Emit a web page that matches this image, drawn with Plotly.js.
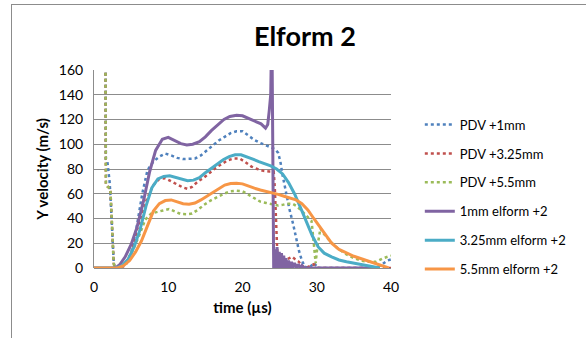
<!DOCTYPE html>
<html>
<head>
<meta charset="utf-8">
<script src="https://cdn.plot.ly/plotly-3.0.1.min.js"></script>
<style>
html,body{margin:0;padding:0;background:#fff;}
#wrap{position:relative;width:586px;height:338px;overflow:hidden;}
#chart{position:absolute;left:0;top:0;width:586px;height:338px;}
#frame{position:absolute;left:11px;top:4px;width:600px;height:400px;border-left:1px solid #8c8c8c;border-top:1px solid #8c8c8c;pointer-events:none;}
</style>
</head>
<body>
<div id="wrap"><div id="chart"></div><div id="frame"></div></div>
<script>
// ---- data ----
const seriesNames = ["PDV +1mm", "PDV +3.25mm", "PDV +5.5mm", "1mm elform +2", "3.25mm elform +2", "5.5mm elform +2"];

const pdv1T = [1.5,1.6,1.8,2.0,2.1,2.2,2.35,2.5,2.65,2.8,3.5,4.2,5.0,5.8,6.5,7.2,8.0,8.8,9.6,10.4,11.2,12.0,12.8,13.6,14.4,15.2,16.0,16.8,17.6,18.4,19.2,20.0,20.8,21.6,22.4,23.2,24.0,24.4,24.8,25.1,25.4,25.8,26.3,26.8,27.2,27.6,28.0,28.4,29.0,29.6,30.2,31,32,33,34,35,36,37,38,38.8,39.5,40];
const pdv1V = [250,88,86,78,70,60,40,20,5,0,0,3,12,35,60,79,86,90,92.5,91,89,88,88,88.5,91,95,99,103,106,109,110.5,110.5,107,103.5,101,99,97,96,93,86,75,62,48,36,24,14,6,1,0,4,0,0,0,0,0,0,0,1,0,3,6,7];

const pdv325T = [1.5,1.6,1.8,2.0,2.2,2.35,2.5,2.65,2.8,3.5,4.2,5.0,5.8,6.5,7.2,8.0,8.8,9.6,10.4,11.2,12.0,12.6,13.2,14.0,14.8,15.6,16.4,17.2,18.0,18.8,19.6,20.4,21.2,22.0,22.8,23.6,24.2,24.35,24.5,24.6,24.7,24.9,25.3,25.8,26.3,26.7,27.1,27.6,28.0,28.5,29.6,30.2,32,34,36,38,40];
const pdv325V = [250,68,66,65,64,45,20,4,0,0,2,10,31,44,57,67,72,72.5,70,67,65,64,65.5,70,73,77,81,84,87,88.5,88.5,85.5,82,80,78.5,78,78,65,45,25,10,4,5,6.5,8,9,7,5,2,0,3,0,0,0,0,0,0];

const pdv55T = [1.5,1.6,1.8,2.0,2.2,2.35,2.5,2.65,2.8,3.5,4.2,4.7,5.5,6.2,6.9,7.7,8.5,9.3,10.1,10.9,11.7,12.5,13.2,14.0,14.8,15.7,16.6,17.5,18.4,19.2,20.0,20.8,21.6,22.4,23.2,24.0,24.8,25.4,26.0,26.7,27.3,28.0,28.7,29.3,29.6,29.85,30.1,30.5,30.9,31.9,32.8,34,35,36,37,38,39,40];
const pdv55V = [250,68,66,65,64,45,20,4,0,0,3,9,18,28,39,44,45.5,46.5,47.7,45.5,43.6,43.5,44,47,51,54.5,57.6,60,62,62.5,62,59,56,53.6,52.5,51.5,50.5,51,52,52,50,46,42,38,20,4,18,32,28,21,16,11,8,6,5,5,8,10];

const el1T = [0,2.9,3.5,4.2,5.0,5.8,6.7,7.5,8.3,9.2,10.0,10.8,11.7,12.5,13.3,14.2,15.0,15.8,16.7,17.5,18.3,19.2,20.0,20.8,21.7,22.5,23.1,23.4,23.6,23.8,23.95,24.1,24.2,24.35,24.5,24.65,24.8,24.95,25.1,25.25,25.4,25.55,25.7,25.85,26.0,26.2,26.4,26.6,26.8,27.0,27.3,27.5,27.8,28.0,28.3,28.5,38];
const el1V = [0,0,3,9,19,33,55,78,95,104,105.5,103,100.5,99.5,100,102,106,111,116,120,122.5,123.5,123,121,118.5,116.5,113,116,127,140,200,0,0,15,0,17,0,13,0,12,0,10,0,8,0,6,0,5,0,4,0,3,0,2,0,0,0];

const el325T = [0,3.0,3.8,4.6,5.4,6.2,7.0,7.8,8.6,9.4,10.2,11.0,11.8,12.6,13.4,14.2,15.0,15.8,16.6,17.4,18.2,19.0,19.8,20.6,21.4,22.2,23.0,23.8,24.6,25.4,26.2,27.0,27.8,28.6,29.4,30.2,31.0,32.0,33.0,34.0,35.0,36.0,37.0,38.0,38.5];
const el325V = [0,0,2,7,17,31,50,65,72,74,74.5,73,71.5,70.5,71,73,77,80.5,84,87.5,90,91.5,91.5,90,88,86,84.5,82.5,80,76,69,60,49,37,26,17,12,9,6.5,5,4,3,2,1,0];

const el55T = [0,3.2,4.0,4.8,5.6,6.4,7.2,8.0,8.8,9.6,10.4,11.2,12.0,12.8,13.6,14.4,15.2,16.0,16.8,17.6,18.4,19.2,20.0,20.8,21.6,22.4,23.2,24.0,24.8,25.6,26.4,27.2,28.0,28.8,29.6,30.4,31.2,32.0,33.0,34.0,35.0,36.0,37.0,38.0,39.0,39.7];
const el55V = [0,0,2,6,13,22,34,46,52,54.5,55,53.5,52,51.5,52.5,55,58,61.5,64.5,67,68.3,68.5,68,66,64.5,63,62,60.5,59.5,58,56.5,55,52,47,40,33,26,20,15,12,9.5,7.5,5.5,4,2,0];

const xTicks = [0,10,20,30,40];
const yTicks = [0,20,40,60,80,100,120,140,160];

// ---- chart ----
const colors = ["#4F81BD","#C0504D","#9BBB59","#8064A2","#4BACC6","#F79646"];
const xs = [pdv1T,pdv325T,pdv55T,el1T,el325T,el55T];
const ys = [pdv1V,pdv325V,pdv55V,el1V,el325V,el55V];

const traces = seriesNames.map((n,i)=>({
  x: xs[i], y: ys[i], name: n, type:'scatter', mode:'lines',
  legendgroup: 'g'+i,
  line: i<3 ? {color:colors[i], width:2.5, dash:'dot'} : {color:colors[i], width:3},
  cliponaxis: true
}));

const layout = {
  width:586, height:338,
  margin:{l:94, r:195, t:70, b:70},
  paper_bgcolor:'#fff', plot_bgcolor:'#fff',
  font:{family:'Lato, "Liberation Sans", sans-serif', size:14, color:'#000'},
  title:{text:'<b>Elform 2</b>', font:{size:27, color:'#000'}, xref:'paper', x:0.71, xanchor:'center', y:0.893, yanchor:'middle'},
  xaxis:{range:[0,40], tickvals:xTicks, ticktext:xTicks.map(String), showgrid:false, zeroline:false,
         showline:false, ticks:'', ticklen:0, tickfont:{size:14}, ticklabelstandoff:9,
         title:{text:'<b>time (µs)</b>', font:{size:15}, standoff:8}},
  yaxis:{range:[0,160], tickvals:yTicks, ticktext:yTicks.map(String), showgrid:true, gridcolor:'#8c8c8c', gridwidth:1,
         zeroline:true, zerolinecolor:'#8c8c8c', zerolinewidth:1, showline:true, linecolor:'#8c8c8c', linewidth:1,
         ticks:'', tickfont:{size:14}, ticklabelstandoff:7,
         title:{text:'<b>Y velocity (m/s)</b>', font:{size:15}, standoff:6}},
  legend:{x:1.097, xanchor:'left', y:0.80, yanchor:'top', font:{size:13}, tracegroupgap:9, bgcolor:'rgba(0,0,0,0)'},
  showlegend:true
};

Plotly.newPlot('chart', traces, layout, {staticPlot:true, displayModeBar:false});
</script>
</body>
</html>
